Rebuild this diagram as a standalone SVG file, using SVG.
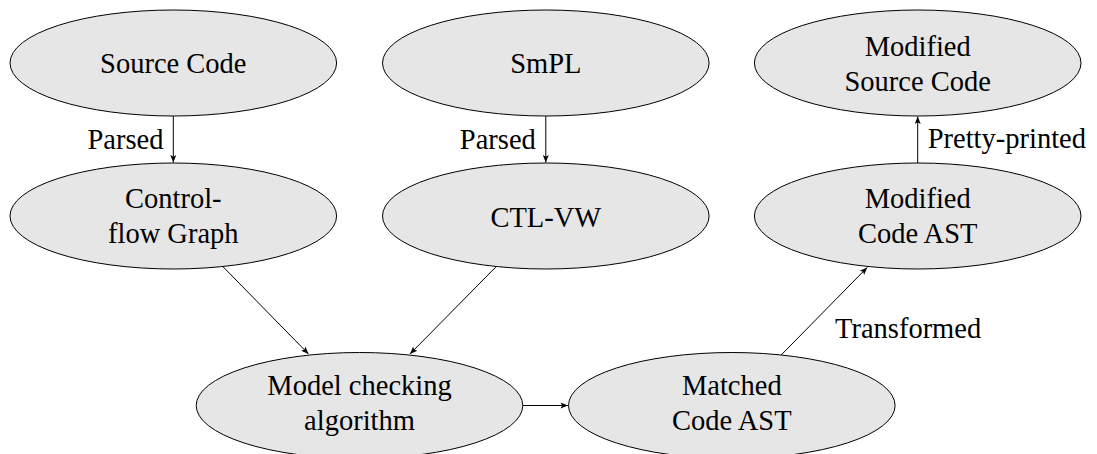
<svg xmlns="http://www.w3.org/2000/svg" width="1097" height="454" viewBox="0 0 1097 454">
<style>
  .node ellipse { fill: #e6e6e6; stroke: #000; stroke-width: 1; }
  text { font-family: 'Liberation Serif', 'DejaVu Serif', 'Times New Roman', Times, serif; font-size: 28.5px; fill: #000; }
  .node text { text-anchor: middle; }
  .edge { stroke: #000; stroke-width: 1; fill: none; marker-end: url(#arr); }
</style>
<defs>
  <marker id="arr" markerUnits="userSpaceOnUse" viewBox="-8 -4 9 8" refX="0" refY="0" markerWidth="9" markerHeight="8" orient="auto">
    <path d="M0,0 L-7.5,-3 L-5.8,0 L-7.5,3 Z" fill="#000"/>
  </marker>
</defs>
<rect width="1097" height="454" fill="#fff"/>
<g id="connectors">
  <line class="edge" x1="173.3" y1="116" x2="173.3" y2="162.5"/>
  <line class="edge" x1="545.8" y1="116" x2="545.8" y2="162.5"/>
  <line class="edge" x1="917.7" y1="163" x2="917.7" y2="116.5"/>
  <line class="edge" x1="222.8" y1="266.5" x2="308.5" y2="354"/>
  <line class="edge" x1="496.3" y1="266.5" x2="410" y2="354"/>
  <line class="edge" x1="522.8" y1="405.5" x2="568" y2="405.5"/>
  <line class="edge" x1="781.2" y1="355" x2="867.2" y2="267.5"/>
  <text x="163.5" y="149.3" text-anchor="end">Parsed</text>
  <text x="535.8" y="149.3" text-anchor="end">Parsed</text>
  <text x="927.7" y="148">Pretty-printed</text>
  <text x="835" y="338.3">Transformed</text>
</g>
<g id="source-code" class="node">
  <ellipse cx="173.3" cy="63" rx="163.3" ry="53"/>
  <text x="173.3" y="73">Source Code</text>
</g>
<g id="smpl" class="node">
  <ellipse cx="545.8" cy="63" rx="163.3" ry="53"/>
  <text x="545.8" y="73">SmPL</text>
</g>
<g id="modified-source-code" class="node">
  <ellipse cx="917.7" cy="63" rx="163.3" ry="53"/>
  <text x="917.7" y="56">Modified</text>
  <text x="917.7" y="91">Source Code</text>
</g>
<g id="control-flow-graph" class="node">
  <ellipse cx="173.3" cy="216" rx="163.3" ry="53"/>
  <text x="173.3" y="208">Control-</text>
  <text x="173.3" y="243">flow Graph</text>
</g>
<g id="ctl-vw" class="node">
  <ellipse cx="545.8" cy="216" rx="163.3" ry="53"/>
  <text x="545.8" y="226.5">CTL-VW</text>
</g>
<g id="modified-code-ast" class="node">
  <ellipse cx="917.7" cy="216" rx="163.3" ry="53"/>
  <text x="917.7" y="208">Modified</text>
  <text x="917.7" y="243">Code AST</text>
</g>
<g id="model-checking" class="node">
  <ellipse cx="359.5" cy="405.5" rx="163.3" ry="53"/>
  <text x="359.5" y="395">Model checking</text>
  <text x="359.5" y="430">algorithm</text>
</g>
<g id="matched-code-ast" class="node">
  <ellipse cx="731.8" cy="405.5" rx="163.3" ry="53"/>
  <text x="731.8" y="395">Matched</text>
  <text x="731.8" y="430">Code AST</text>
</g>
</svg>
